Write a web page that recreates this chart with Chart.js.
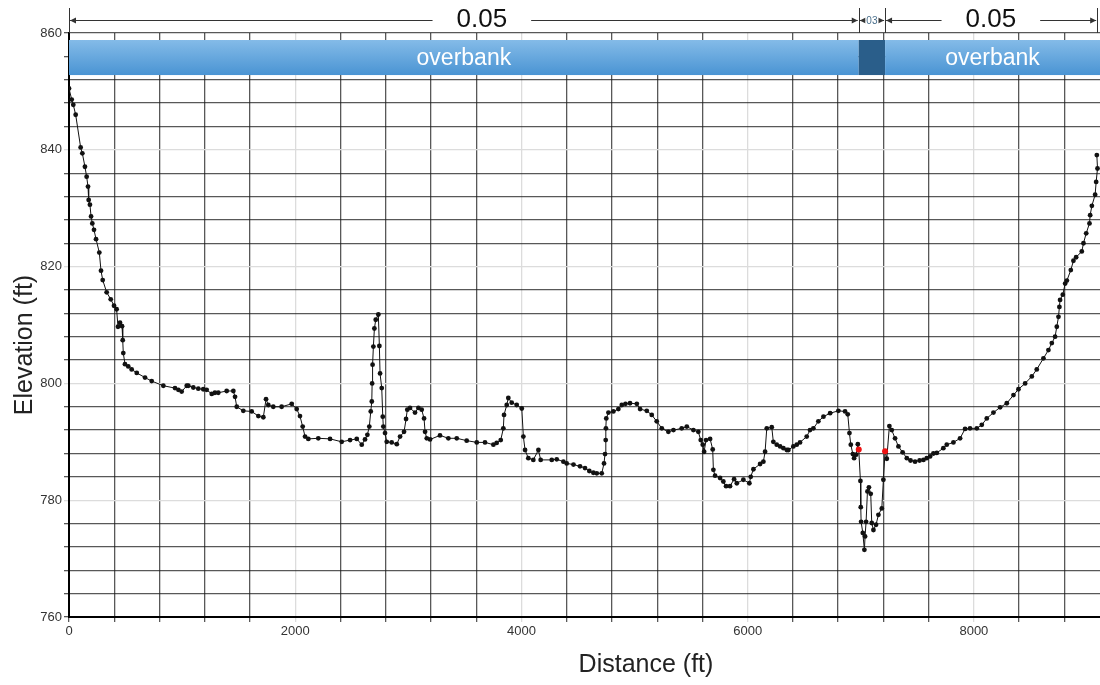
<!DOCTYPE html>
<html>
<head>
<meta charset="utf-8">
<script src="https://cdn.jsdelivr.net/npm/chart.js@4.4.1/dist/chart.umd.min.js"></script>
<style>
  html, body { margin: 0; padding: 0; background: #fff; overflow: hidden; }
  #profile { display: block; }
</style>
</head>
<body>
<canvas id="profile" width="1104" height="685"></canvas>
<script>
// Cross-section profile (station / elevation pairs)
const distance = [
  0, 24, 38, 59, 103, 118, 141, 156, 168, 174, 185, 195, 206, 221, 239, 268, 283, 298, 333, 369,
  398, 421, 433, 451, 469, 475, 480, 495, 524, 554, 599, 672, 731, 834, 937, 967, 996, 1041, 1055, 1099,
  1143, 1187, 1217, 1262, 1290, 1320, 1394, 1453, 1468, 1483, 1541, 1615, 1674, 1718, 1742, 1762, 1806, 1880, 1969, 2013,
  2042, 2066, 2087, 2116, 2204, 2308, 2411, 2485, 2544, 2588, 2617, 2638, 2655, 2668, 2677, 2680, 2684, 2691, 2700, 2712,
  2735, 2744, 2750, 2765, 2774, 2779, 2794, 2809, 2853, 2898, 2927, 2962, 2980, 2991, 3015, 3059, 3089, 3118, 3139, 3148,
  3163, 3192, 3280, 3354, 3428, 3516, 3605, 3678, 3752, 3781, 3817, 3840, 3846, 3870, 3884, 3914, 3958, 4003, 4017, 4032,
  4061, 4105, 4150, 4170, 4268, 4312, 4371, 4400, 4460, 4518, 4562, 4600, 4636, 4666, 4710, 4730, 4739, 4745, 4747, 4750,
  4769, 4813, 4857, 4887, 4920, 4960, 5020, 5049, 5108, 5152, 5196, 5241, 5299, 5344, 5417, 5462, 5520, 5564, 5585, 5603,
  5615, 5632, 5668, 5691, 5697, 5712, 5756, 5785, 5809, 5844, 5880, 5904, 5962, 6015, 6027, 6051, 6110, 6139, 6154, 6169,
  6213, 6227, 6257, 6287, 6316, 6346, 6360, 6404, 6434, 6463, 6522, 6551, 6581, 6625, 6670, 6729, 6802, 6861, 6885, 6900,
  6912, 6930, 6941, 6959, 6974, 6982, 6997, 7000, 7003, 7018, 7032, 7038, 7047, 7059, 7072, 7088, 7097, 7112, 7135, 7156,
  7186, 7200, 7215, 7230, 7253, 7274, 7303, 7333, 7370, 7407, 7440, 7480, 7520, 7554, 7583, 7613, 7642, 7672, 7730, 7760,
  7819, 7878, 7922, 7966, 8026, 8070, 8114, 8173, 8232, 8291, 8350, 8394, 8453, 8512, 8556, 8615, 8659, 8689, 8718, 8733,
  8748, 8756, 8762, 8786, 8807, 8822, 8857, 8880, 8904, 8954, 8969, 8993, 9022, 9028, 9043, 9072, 9081, 9093, 9087
];
const elevation = [
  850.5, 848.6, 847.7, 846.0, 840.4, 839.4, 837.1, 835.4, 833.7, 831.4, 830.6, 828.6, 827.4, 826.3, 824.7, 822.4, 819.3, 817.7, 815.6, 814.4,
  813.3, 812.7, 809.7, 810.4, 809.8, 807.4, 805.2, 803.3, 802.9, 802.4, 801.8, 801.0, 800.4, 799.6, 799.2, 798.9, 798.6, 799.6, 799.6, 799.3,
  799.1, 799.0, 798.9, 798.2, 798.4, 798.4, 798.7, 798.7, 797.7, 796.0, 795.3, 795.2, 794.4, 794.2, 797.3, 796.3, 796.0, 796.0, 796.5, 795.6,
  794.4, 792.6, 790.9, 790.5, 790.6, 790.5, 790.0, 790.3, 790.5, 789.5, 790.4, 791.2, 792.6, 795.2, 796.9, 800.0, 803.2, 806.3, 809.4, 810.9,
  811.8, 806.4, 801.7, 799.2, 794.3, 792.6, 791.5, 790.0, 789.9, 789.6, 790.9, 791.7, 793.9, 795.5, 795.8, 795.0, 795.8, 795.5, 794.0, 791.7,
  790.6, 790.4, 791.1, 790.6, 790.6, 790.2, 789.9, 789.9, 789.5, 789.8, 790.3, 792.3, 794.6, 796.3, 797.5, 796.7, 796.3, 795.7, 790.9, 788.6,
  787.2, 786.9, 788.6, 786.9, 786.9, 787.0, 786.6, 786.3, 786.1, 785.8, 785.5, 785.0, 784.7, 784.6, 784.6, 786.3, 787.9, 790.3, 792.3, 794.0,
  795.0, 795.2, 795.6, 796.3, 796.5, 796.6, 796.5, 795.6, 795.3, 794.6, 793.5, 792.3, 791.7, 792.0, 792.3, 792.6, 792.0, 791.7, 790.3, 789.5,
  788.3, 790.3, 790.5, 788.7, 785.2, 784.2, 783.8, 783.2, 782.4, 782.4, 783.6, 782.9, 783.5, 782.9, 784.0, 785.3, 786.2, 786.6, 788.3, 792.3,
  792.5, 790.0, 789.5, 789.2, 788.9, 788.6, 788.6, 789.2, 789.5, 789.9, 790.9, 792.0, 792.3, 793.5, 794.3, 794.9, 795.3, 795.2, 794.7, 791.5,
  789.5, 787.9, 787.2, 787.8, 789.6, 788.7, 783.3, 778.8, 776.3, 774.4, 771.5, 773.8, 776.3, 781.5, 782.2, 781.1, 776.1, 774.9, 775.8, 777.5,
  778.6, 783.5, 788.4, 787.1, 792.7, 792.0, 790.6, 789.2, 788.2, 787.2, 786.8, 786.6, 786.8, 786.9, 787.2, 787.5, 788.0, 788.1, 788.9, 789.5,
  789.9, 790.6, 792.2, 792.3, 792.3, 792.9, 794.0, 795.0, 795.9, 796.6, 798.0, 799.0, 800.0, 801.2, 802.4, 804.3, 805.7, 806.9, 808.0, 809.7,
  811.4, 813.1, 814.3, 815.2, 817.1, 817.6, 819.4, 821.0, 821.6, 822.6, 824.0, 825.7, 827.4, 828.8, 830.4, 832.3, 834.5, 836.8, 839.1
];

// Bank stations split the section into overbank / channel / overbank
const bankStations = [6982, 7215];
const reachEnd = 9090;
const manningN = ['0.05', '03', '0.05'];
const manningLabelAt = [3650, null, 8150];
const zoneNames = ['overbank', '', 'overbank'];
const zoneTop = 858.8;
const zoneBottom = 852.8;

// axis ranges / grid steps
const xMax = 9115;
const xGridStep = 400;
const xLabelStep = 2000;
const yMin = 760;
const yMax = 860;
const yGridStep = 4;
const yLabelStep = 20;

const FONT = "'Liberation Sans', Arial, Helvetica, sans-serif";
const DARK = 'rgba(30,30,30,0.74)';
const LIGHT = '#dcdcdc';

function stepTicks(from, to, step) {
  const out = [];
  for (let v = from; v <= to; v += step) out.push({ value: v });
  return out;
}

function gridColorX(ctx) {
  const v = ctx.tick ? ctx.tick.value : 0;
  return (v % xLabelStep === 0 && v !== 0) ? LIGHT : DARK;
}
function gridColorY(ctx) {
  const v = ctx.tick ? ctx.tick.value : 0;
  return (v % yLabelStep === 0 && v !== yMax && v !== yMin) ? LIGHT : DARK;
}

function arrow(ctx, x, y, dir) {
  ctx.beginPath();
  ctx.moveTo(x, y);
  ctx.lineTo(x + dir * 6, y - 3);
  ctx.lineTo(x + dir * 6, y + 3);
  ctx.closePath();
  ctx.fill();
}

// overbank / channel strip plus the Manning's n dimension line on top
const sectionPlugin = {
  id: 'sections',
  beforeDatasetsDraw(chart) {
    const { ctx, scales: { x, y } } = chart;
    const edges = [0, ...bankStations, x.max];
    const top = y.getPixelForValue(zoneTop);
    const bot = y.getPixelForValue(zoneBottom);
    ctx.save();
    for (let i = 0; i < 3; i++) {
      const a = x.getPixelForValue(edges[i]);
      const b = Math.min(x.getPixelForValue(edges[i + 1]), chart.chartArea.right);
      if (i === 1) {
        ctx.fillStyle = '#2a5e8a';
      } else {
        const g = ctx.createLinearGradient(0, top, 0, bot);
        g.addColorStop(0, '#84bbe8');
        g.addColorStop(1, '#4a94d3');
        ctx.fillStyle = g;
      }
      ctx.fillRect(a, top, b - a, bot - top);
      if (zoneNames[i]) {
        ctx.fillStyle = '#ffffff';
        ctx.font = '23px ' + FONT;
        ctx.textAlign = 'center';
        ctx.textBaseline = 'middle';
        ctx.fillText(zoneNames[i], (a + b) / 2, (top + bot) / 2 + 1);
      }
    }
    ctx.restore();
  },
  afterDraw(chart) {
    const { ctx, scales: { x }, chartArea } = chart;
    const edges = [0, ...bankStations, reachEnd].map(v => x.getPixelForValue(v));
    const dimY = 20;
    ctx.save();
    ctx.strokeStyle = '#333';
    ctx.fillStyle = '#333';
    ctx.lineWidth = 1;
    edges.forEach(px => {
      ctx.beginPath();
      ctx.moveTo(Math.round(px) + 0.5, 8);
      ctx.lineTo(Math.round(px) + 0.5, chartArea.top);
      ctx.stroke();
    });
    for (let i = 0; i < 3; i++) {
      const a = edges[i] + 1, b = edges[i + 1] - 1;
      ctx.beginPath();
      ctx.moveTo(a, dimY + 0.5);
      ctx.lineTo(b, dimY + 0.5);
      ctx.stroke();
      arrow(ctx, a, dimY + 0.5, 1);
      arrow(ctx, b, dimY + 0.5, -1);
      const cx = manningLabelAt[i] !== null ? x.getPixelForValue(manningLabelAt[i]) : (a + b) / 2;
      if (i === 1) {
        ctx.font = '10px ' + FONT;
        const w = ctx.measureText(manningN[i]).width;
        ctx.fillStyle = '#fff';
        ctx.fillRect(cx - w / 2 - 1, dimY - 6, w + 2, 12);
        ctx.fillStyle = '#4a6f8c';
        ctx.textAlign = 'center';
        ctx.textBaseline = 'middle';
        ctx.fillText(manningN[i], cx, dimY + 1);
      } else {
        ctx.font = '26px ' + FONT;
        const w = ctx.measureText(manningN[i]).width;
        ctx.fillStyle = '#fff';
        ctx.fillRect(cx - w / 2 - 24, 2, w + 48, 28);
        ctx.fillStyle = '#111';
        ctx.textAlign = 'center';
        ctx.textBaseline = 'middle';
        ctx.fillText(manningN[i], cx, dimY);
      }
      ctx.fillStyle = '#333';
    }
    // axis titles
    ctx.fillStyle = '#222';
    ctx.font = '25px ' + FONT;
    ctx.textAlign = 'center';
    ctx.textBaseline = 'middle';
    ctx.fillText('Distance (ft)', 646, 665);
    ctx.translate(25, 345);
    ctx.rotate(-Math.PI / 2);
    ctx.fillText('Elevation (ft)', 0, 0);
    ctx.restore();
  }
};

const points = distance.map((d, i) => ({ x: d, y: elevation[i] }));

new Chart(document.getElementById('profile').getContext('2d'), {
  type: 'scatter',
  data: {
    datasets: [{
      data: points,
      showLine: true,
      borderColor: '#111',
      borderWidth: 1,
      pointRadius: ctx => bankStations.includes(ctx.raw && ctx.raw.x) ? 3 : 2.4,
      pointBackgroundColor: ctx => bankStations.includes(ctx.raw && ctx.raw.x) ? '#ee1111' : '#111',
      pointBorderWidth: 0
    }]
  },
  options: {
    responsive: false,
    animation: false,
    devicePixelRatio: 1,
    layout: { padding: { top: 33, right: 0, left: 0, bottom: 0 } },
    plugins: { legend: { display: false }, tooltip: { enabled: false } },
    scales: {
      x: {
        type: 'linear',
        min: 0,
        max: xMax,
        afterBuildTicks: s => { s.ticks = stepTicks(0, xMax, xGridStep); },
        ticks: {
          autoSkip: false,
          maxRotation: 0,
          padding: 2,
          color: '#333',
          font: { family: FONT, size: 13 },
          callback: v => (v % xLabelStep === 0 ? String(v) : '')
        },
        grid: { color: gridColorX, lineWidth: 1.3, tickLength: 5 },
        border: { color: '#000', width: 2 },
        afterFit: s => { s.height = 68; }
      },
      y: {
        min: yMin,
        max: yMax,
        afterBuildTicks: s => { s.ticks = stepTicks(yMin, yMax, yGridStep); },
        ticks: {
          autoSkip: false,
          padding: 2,
          color: '#333',
          font: { family: FONT, size: 13 },
          callback: v => (v % yLabelStep === 0 ? String(v) : '')
        },
        grid: { color: gridColorY, lineWidth: 1.3, tickLength: 5 },
        border: { color: '#000', width: 2 },
        afterFit: s => { s.width = 69; }
      }
    }
  },
  plugins: [sectionPlugin]
});
</script>
</body>
</html>
